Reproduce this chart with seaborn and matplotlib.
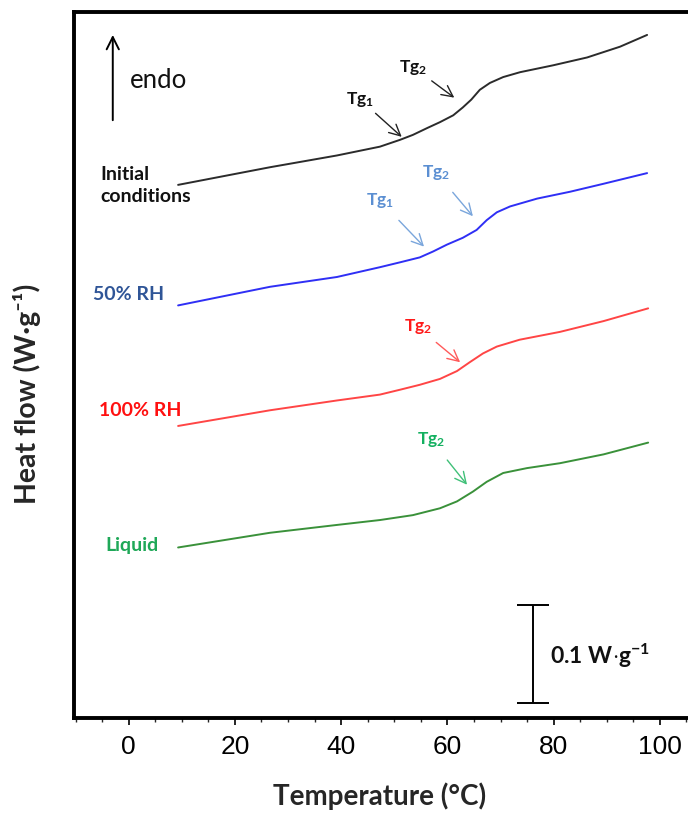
import matplotlib
matplotlib.use("Agg")
import matplotlib.pyplot as plt
import seaborn as sns
import pandas as pd
import numpy as np
from matplotlib.ticker import MultipleLocator

# ---- data ----
t_initial = [9.3, 26.6, 39.2, 47.3, 51.1, 53.5, 56.2, 58.6, 61.1, 62.9, 64.5, 66.1, 68.0, 70.5, 73.7, 79.9, 86.3, 92.5, 97.6]
hf_initial = [0.544, 0.562, 0.574, 0.583, 0.590, 0.595, 0.602, 0.608, 0.615, 0.623, 0.631, 0.641, 0.648, 0.654, 0.659, 0.666, 0.674, 0.685, 0.697]

t_rh50 = [9.3, 26.6, 39.2, 47.3, 51.1, 54.8, 57.3, 59.9, 62.9, 65.5, 67.4, 69.3, 71.8, 76.9, 83.1, 89.3, 97.6]
hf_rh50 = [0.421, 0.440, 0.450, 0.460, 0.465, 0.470, 0.476, 0.483, 0.490, 0.498, 0.508, 0.516, 0.522, 0.530, 0.537, 0.545, 0.556]

t_rh100 = [9.3, 26.6, 39.2, 47.3, 51.1, 54.8, 58.6, 61.8, 64.2, 66.7, 69.3, 73.6, 81.2, 89.4, 97.8]
hf_rh100 = [0.298, 0.314, 0.324, 0.330, 0.335, 0.340, 0.346, 0.354, 0.363, 0.372, 0.379, 0.386, 0.394, 0.405, 0.418]

t_liquid = [9.3, 26.6, 39.2, 47.3, 53.5, 58.6, 61.8, 64.8, 67.4, 70.5, 75.0, 81.2, 89.4, 97.8]
hf_liquid = [0.174, 0.189, 0.197, 0.202, 0.207, 0.214, 0.221, 0.231, 0.241, 0.250, 0.255, 0.260, 0.269, 0.281]

series_names = ["Initial\nconditions", "50% RH", "100% RH", "Liquid"]
line_colors = ["#2b2b2b", "#2f2ff5", "#ff4545", "#3a913a"]
label_colors = ["#111111", "#2f5597", "#ff1010", "#1fa858"]
label_pos = [(-5.4, 0.543), (-6.8, 0.432), (-5.6, 0.314), (-4.3, 0.1765)]

# Tg annotations
tg_text = [r"$\mathbf{Tg_1}$", r"$\mathbf{Tg_2}$", r"$\mathbf{Tg_1}$", r"$\mathbf{Tg_2}$", r"$\mathbf{Tg_2}$", r"$\mathbf{Tg_2}$"]
tg_text_pos = [(43.6, 0.631), (53.6, 0.664), (47.3, 0.528), (57.8, 0.557), (54.4, 0.399), (56.9, 0.284)]
tg_tip = [(51.4, 0.593), (61.3, 0.633), (55.6, 0.481), (64.8, 0.512), (62.4, 0.363), (63.7, 0.238)]
tg_color = ["#111111", "#111111", "#5b8fd2", "#5b8fd2", "#ff1a1a", "#14b060"]
tg_arrow_color = ["#222222", "#222222", "#7aa6dc", "#7aa6dc", "#ff5a5a", "#40c078"]
tg_gap = [1, 1, 7, 7, 3, 7]

scale_T = 76.06
scale_bottom = 0.015
scale_len = 0.1

xmin, xmax = -10.3, 105.3
ymin, ymax = 0.0, 0.7204

# ---- figure ----
sns.set_style("white")
plt.rcParams['font.family'] = ['Lato', 'DejaVu Sans']
plt.rcParams['mathtext.fontset'] = 'custom'
plt.rcParams['mathtext.rm'] = 'Lato'
plt.rcParams['mathtext.bf'] = 'Lato:bold'
plt.rcParams['mathtext.it'] = 'Lato:italic'

fig = plt.figure(figsize=(6.88, 8.13), dpi=100)
ax = fig.add_axes([74 / 688, 1 - 718 / 813, 1 - 74 / 688, (718 - 12) / 813])

frames = []
for name, t, hf in [(series_names[0], t_initial, hf_initial),
                    (series_names[1], t_rh50, hf_rh50),
                    (series_names[2], t_rh100, hf_rh100),
                    (series_names[3], t_liquid, hf_liquid)]:
    frames.append(pd.DataFrame({"T": t, "HF": hf, "series": name}))
df = pd.concat(frames, ignore_index=True)

sns.lineplot(data=df, x="T", y="HF", hue="series", hue_order=series_names,
             palette=line_colors, linewidth=1.4, legend=False, ax=ax, sort=False)
for ln in ax.lines:
    ln.set_solid_joinstyle("round")

ax.set_xlim(xmin, xmax)
ax.set_ylim(ymin, ymax)

# spines
for side in ["left", "top", "bottom"]:
    ax.spines[side].set_linewidth(2.8)
    ax.spines[side].set_color("black")
ax.spines["right"].set_visible(False)

ax.xaxis.set_major_locator(MultipleLocator(20))
ax.xaxis.set_minor_locator(MultipleLocator(5))
ax.tick_params(axis="x", which="major", direction="out", length=5, width=1.2,
               bottom=True, labelsize=19, pad=7, colors="black")
ax.tick_params(axis="x", which="minor", direction="out", length=3, width=1.0, bottom=True)
for lab in ax.get_xticklabels():
    lab.set_fontfamily(["Liberation Sans", "DejaVu Sans"])
ax.set_yticks([])

ax.set_xlabel("Temperature (\u00b0C)", fontsize=20, fontweight="bold")
ax.xaxis.set_label_coords((380 - 74) / 614, (718 - 782) / 706)
ax.set_ylabel("Heat flow (W\u00b7g\u207b\u00b9)", fontsize=20.5, fontweight="bold")
ax.yaxis.set_label_coords(-(74 - 41) / 614, (718 - 394) / 706)

# series labels
for name, (x, y), c in zip(series_names, label_pos, label_colors):
    ax.text(x, y, name, color=c, fontsize=14, fontweight="bold",
            ha="left", va="center", linespacing=1.35)

# endo arrow
ax.annotate("", xy=(-3.0, 0.697), xytext=(-3.0, 0.610),
            arrowprops=dict(arrowstyle="->", color="black", lw=1.4,
                            mutation_scale=22, shrinkA=0, shrinkB=0))
ax.text(0.25, 0.651, "endo", fontsize=18.5, ha="left", va="center", color="#111111")

# Tg annotations
for txt, tp, tip, c, ac, gap in zip(tg_text, tg_text_pos, tg_tip, tg_color, tg_arrow_color, tg_gap):
    ax.annotate(txt, xy=tip, xytext=tp, color=c, fontsize=12.5,
                ha="center", va="center",
                arrowprops=dict(arrowstyle="->", color=ac, lw=1.0,
                                mutation_scale=20, shrinkA=gap, shrinkB=0))

# scale bar (0.1 W/g)
ax.errorbar([scale_T], [scale_bottom + scale_len / 2], yerr=[[scale_len / 2], [scale_len / 2]],
            fmt="none", ecolor="black", elinewidth=1.4, capsize=11.5, capthick=1.4)
ax.text(79.4, 0.063, r"$\mathbf{0.1\ W{\cdot}g^{-1}}$", fontsize=16.5,
        ha="left", va="center", color="#111111")

fig.savefig("out.png", dpi=100)
